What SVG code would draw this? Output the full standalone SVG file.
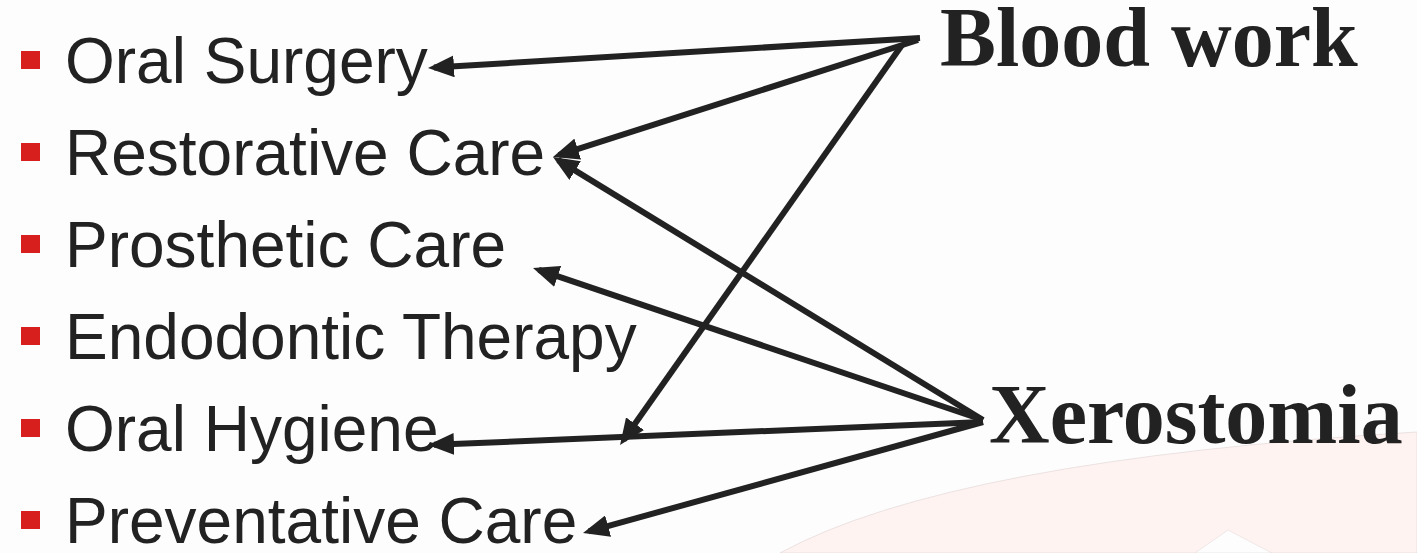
<svg xmlns="http://www.w3.org/2000/svg" width="1417" height="553" viewBox="0 0 1417 553">
  <style>
    .item { font-family: "Liberation Sans", Arial, sans-serif; font-size: 64px; fill: #222222; }
    .bullet { fill: #d7201d; }
    .title { font-family: "Liberation Serif", "Times New Roman", serif; font-size: 84px; font-weight: bold; fill: #222222; }
    .conn { stroke: #222222; stroke-width: 6; fill: none; marker-end: url(#arrow); }
  </style>
  <defs>
    <marker id="arrow" markerUnits="userSpaceOnUse" markerWidth="26" markerHeight="22" refX="20" refY="11" orient="auto" viewBox="0 0 26 22">
      <path d="M0,0 L26,11 L0,22 Z" fill="#222222"/>
    </marker>
  </defs>
  <rect x="0" y="0" width="1417" height="553" fill="#fdfdfd"/>
  <path d="M780,553 Q950,460 1417,432 L1417,553 Z" fill="#fff3f1" stroke="#e6dcdc" stroke-width="0.8"/>
  <path d="M1195,553 L1228,530 L1272,553 Z" fill="#fdfdfd" stroke="#e6dcdc" stroke-width="0.6"/>

  <g id="oral-surgery"><rect class="bullet" x="21" y="51" width="19" height="18"/><text class="item" x="65" y="83">Oral Surgery</text></g>
  <g id="restorative-care"><rect class="bullet" x="21" y="143" width="19" height="18"/><text class="item" x="65" y="175">Restorative Care</text></g>
  <g id="prosthetic-care"><rect class="bullet" x="21" y="235" width="19" height="18"/><text class="item" x="65" y="267">Prosthetic Care</text></g>
  <g id="endodontic-therapy"><rect class="bullet" x="21" y="327" width="19" height="18"/><text class="item" x="65" y="359">Endodontic Therapy</text></g>
  <g id="oral-hygiene"><rect class="bullet" x="21" y="419" width="19" height="18"/><text class="item" x="65" y="451">Oral Hygiene</text></g>
  <g id="preventative-care"><rect class="bullet" x="21" y="511" width="19" height="18"/><text class="item" x="65" y="543">Preventative Care</text></g>

  <g id="blood-work"><text class="title" x="940" y="66">Blood work</text></g>
  <g id="xerostomia"><text class="title" x="989" y="443">Xerostomia</text></g>

  <g id="connectors">
    <line class="conn" x1="920" y1="38" x2="434" y2="67.6"/>
    <line class="conn" x1="918" y1="40" x2="558.7" y2="155.2"/>
    <line class="conn" x1="902" y1="45" x2="623.5" y2="440.1"/>
    <line class="conn" x1="983" y1="420" x2="558.1" y2="160.1"/>
    <line class="conn" x1="983" y1="420" x2="538.7" y2="269.9"/>
    <line class="conn" x1="983" y1="422" x2="434" y2="444.8"/>
    <line class="conn" x1="983" y1="422" x2="588.8" y2="531.4"/>
  </g>
</svg>
